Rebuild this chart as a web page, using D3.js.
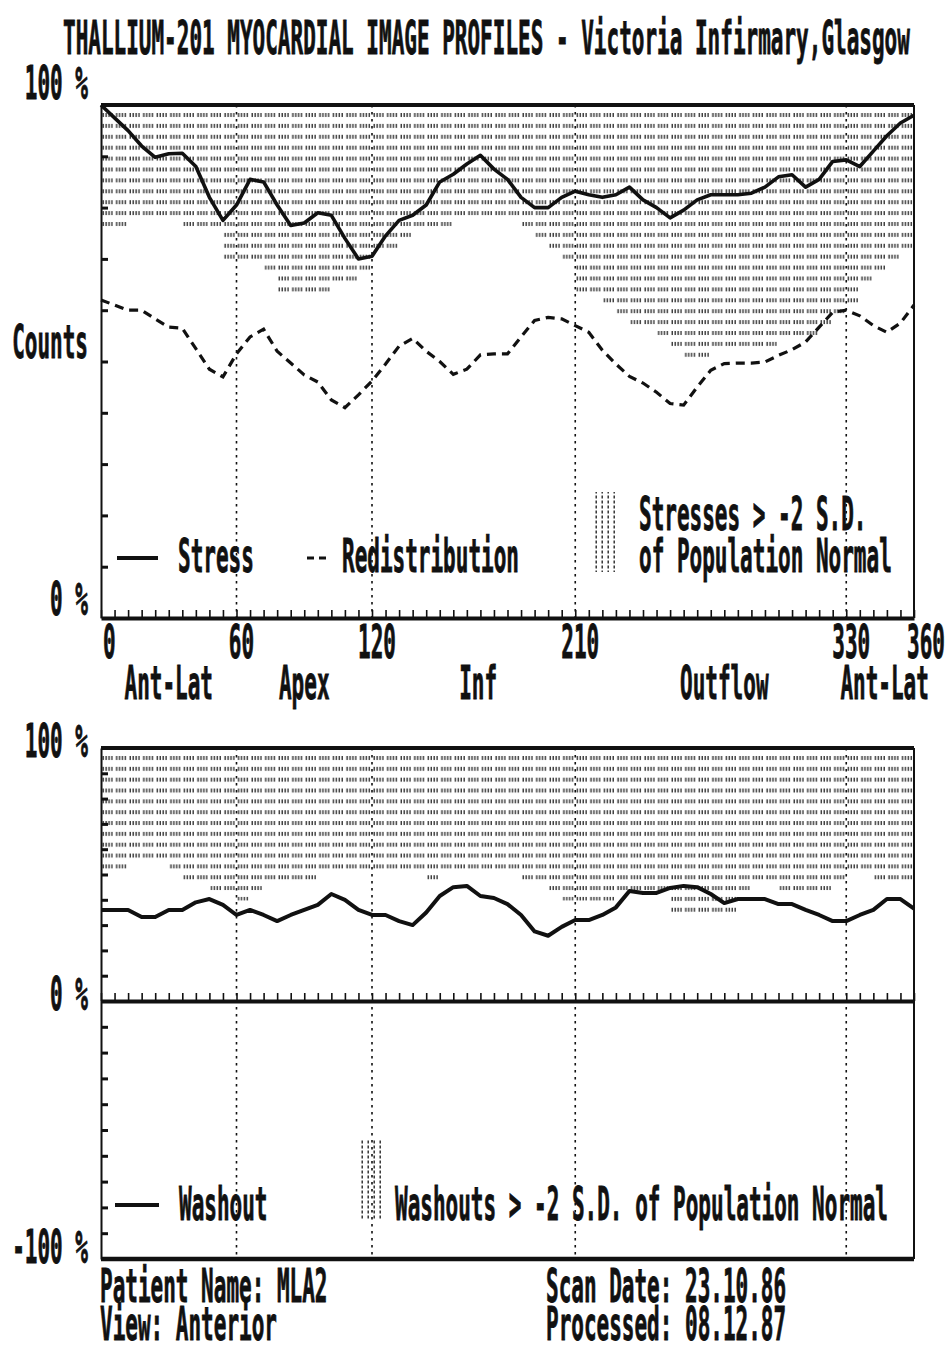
<!DOCTYPE html>
<html>
<head>
<meta charset="utf-8">
<script src="https://cdn.jsdelivr.net/npm/d3@7"></script>
<style>
  html, body { margin: 0; padding: 0; background: #ffffff; }
  svg { display: block; }
  text {
    font-family: 'DejaVu Sans Mono', 'Liberation Mono', monospace;
    font-weight: bold;
    fill: #111;
    stroke: #111;
    stroke-width: 0.7px;
    vector-effect: non-scaling-stroke;
  }
</style>
</head>
<body>
<svg id="chart" width="946" height="1351"></svg>
<script>
// ---- Profile data: one sample every 6 degrees around the myocardium ----
const angles = [0, 6, 12, 18, 24, 30, 36, 42, 48, 54, 60, 66, 72, 78, 84, 90, 96, 102, 108, 114,
  120, 126, 132, 138, 144, 150, 156, 162, 168, 174, 180, 186, 192, 198, 204, 210, 216, 222, 228,
  234, 240, 246, 252, 258, 264, 270, 276, 282, 288, 294, 300, 306, 312, 318, 324, 330, 336, 342,
  348, 354, 360];

// Stress counts (% of maximum)
const stress = [100, 97.5, 95, 92, 89.8, 90.5, 90.6, 88, 82, 77.5, 80.5, 85.5, 85, 80.5, 76.5,
  77, 79, 78.5, 74, 70, 70.5, 74.5, 77.5, 78.5, 80.5, 85, 86.5, 88.5, 90.2, 87.5, 85.5, 82, 80,
  80, 82, 83.2, 82.5, 82, 82.5, 84, 81.5, 80, 78, 79.5, 81.5, 82.5, 82.5, 82.5, 82.8, 84, 86,
  86.4, 84, 85.5, 89, 89.3, 88, 91, 94, 96.5, 98];

// Redistribution counts (% of maximum)
const redistribution = [62, 61, 60, 60, 58.3, 56.7, 56.5, 52.5, 48.5, 47, 51.5, 54.8, 56.3, 52,
  49.7, 47.4, 46, 42.5, 41, 43.5, 46.2, 49.5, 53, 54.5, 52, 50, 47.5, 48.5, 51.3, 51.5, 51.5,
  54.8, 58, 58.6, 58.3, 57, 55.7, 52.2, 49.5, 47.1, 45.8, 44, 41.8, 41.5, 45, 48.3, 49.6, 49.7,
  49.7, 49.9, 51.2, 52.3, 53.8, 56.7, 59.6, 60, 58.9, 57, 55.7, 57.5, 61];

// Lower limit of the normal stress range (population mean - 2 S.D.)
const stressNormalLow = [75.6, 75.6, 77.5, 77.5, 77.5, 77.5, 75.6, 75.6, 75.6, 69.4, 69.4, 69.4,
  67.4, 63.1, 63.1, 63.1, 63.1, 65.3, 65.3, 67.4, 71.3, 71.3, 73.5, 75.6, 75.6, 75.6, 77.5, 77.5,
  77.5, 77.5, 77.5, 75.6, 73.5, 71.3, 69.4, 63.1, 63.1, 61, 58.6, 56.7, 56.7, 54.7, 52.6, 50.7,
  50.7, 52.6, 52.6, 52.6, 52.6, 52.6, 54.7, 54.7, 54.7, 56.7, 58.6, 61, 65.3, 67.4, 69.4, 71.3,
  73.5];

// Washout (%)
const washout = [36, 36, 36, 33.2, 33.2, 36, 36, 39, 40.3, 38, 34, 36, 34, 31.6, 34, 36, 38,
  42.3, 40, 36, 34, 34, 31.6, 30, 35, 41.5, 45, 45.5, 41.5, 40.7, 38.3, 34, 27.5, 25.8, 29.3, 32,
  32, 34, 37, 43.5, 42.7, 42.7, 44.7, 45.5, 45, 42.3, 38.7, 40.3, 40.3, 40.3, 38.3, 38.3, 36, 34,
  31.6, 31.6, 34, 36, 40.3, 40.3, 36.5];

// Lower limit of the normal washout range (population mean - 2 S.D.)
const washoutNormalLow = [52, 52, 56, 56, 56, 52, 47.6, 47.6, 43.7, 43.7, 39.7, 43.7, 47.6, 47.6,
  47.6, 47.6, 52, 52, 52, 52, 52, 52, 52, 52, 47.6, 52, 52, 52, 52, 52, 52, 47.6, 47.6, 43.7,
  39.7, 39.7, 39.7, 39.7, 43.7, 43.7, 43.7, 43.7, 35, 35, 35, 35, 35, 43.7, 47.6, 47.6, 43.7,
  43.7, 43.7, 43.7, 47.6, 52, 52, 47.6, 47.6, 47.6, 47.6];

// Axis annotations
const angleTicks = [0, 60, 120, 210, 330, 360];
const regionNames = ["Ant-Lat", "Apex", "Inf", "Outflow", "Ant-Lat"];
const regionAngles = [30, 90, 167, 276, 347];
const countTicks = [10, 20, 30, 40, 50, 60, 70, 80, 90];
const washoutTicks = [-90, -80, -70, -60, -50, -40, -30, -20, -10, 10, 20, 30, 40, 50, 60, 70, 80, 90];

// ---- Layout ----
const svg = d3.select("#chart");
const FS = 21;              // monospace cell of ~12.65px
const SY = 2.2;             // tall, narrow terminal lettering
const INK = "#111";

const x = d3.scaleLinear().domain([0, 360]).range([101, 914]);
const yTop = d3.scaleLinear().domain([0, 100]).range([618, 105]);
const yBot = d3.scaleLinear().domain([-100, 0, 100]).range([1259, 1001, 748]);

function label(s, x0, base, anchor) {
  return svg.append("text")
    .attr("transform", `translate(${x0},${base}) scale(1,${SY})`)
    .attr("font-size", FS)
    .attr("text-anchor", anchor || "start")
    .text(s);
}

// ---- Stipple patterns ----
const defs = svg.append("defs");
function stipple(id, y0, h) {
  const p = defs.append("pattern").attr("id", id)
    .attr("patternUnits", "userSpaceOnUse")
    .attr("x", 101).attr("y", y0).attr("width", 13.55).attr("height", h);
  [1.5, 4.4, 7.3, 10.2].forEach(dx =>
    p.append("rect").attr("x", dx).attr("y", 0).attr("width", 1.3).attr("height", 4)
      .attr("fill", "#262626"));
}
stipple("dotsTop", 113, 10.9);
stipple("dotsBot", 756, 10.84);
const lp = defs.append("pattern").attr("id", "dotsLegend")
  .attr("patternUnits", "userSpaceOnUse").attr("width", 6).attr("height", 5);
lp.append("rect").attr("x", 1.5).attr("y", 0.5).attr("width", 1.4).attr("height", 3)
  .attr("fill", "#262626");

// ---- Normal-range shading ----
const pts = angles.map((a, i) => i);
svg.append("path")
  .attr("d", d3.area().curve(d3.curveStepAfter)
    .x(i => x(angles[i])).y0(i => yTop(stressNormalLow[i])).y1(yTop(100))(pts))
  .attr("fill", "url(#dotsTop)");
svg.append("path")
  .attr("d", d3.area().curve(d3.curveStepAfter)
    .x(i => x(angles[i])).y0(i => yBot(washoutNormalLow[i])).y1(yBot(100))(pts))
  .attr("fill", "url(#dotsBot)");

// ---- Dotted segment dividers ----
const dividers = [60, 120, 210, 330];
[[yTop(100), yTop(0)], [yBot(100), yBot(-100)]].forEach(([a, b]) => {
  svg.append("g").selectAll("line").data(dividers).join("line")
    .attr("x1", d => x(d)).attr("x2", d => x(d))
    .attr("y1", a).attr("y2", b)
    .attr("stroke", INK).attr("stroke-width", 1.6).attr("stroke-dasharray", "2.5,4.5");
});

// ---- Curves ----
const lineTop = src => d3.line().x(i => x(angles[i])).y(i => yTop(src[i]));
svg.append("path").attr("d", lineTop(stress)(pts))
  .attr("fill", "none").attr("stroke", INK).attr("stroke-width", 3.6)
  .attr("stroke-linejoin", "round");
svg.append("path").attr("d", lineTop(redistribution)(pts))
  .attr("fill", "none").attr("stroke", INK).attr("stroke-width", 3.2)
  .attr("stroke-dasharray", "9,6");
svg.append("path")
  .attr("d", d3.line().x(i => x(angles[i])).y(i => yBot(washout[i]))(pts))
  .attr("fill", "none").attr("stroke", INK).attr("stroke-width", 4)
  .attr("stroke-linejoin", "round");

// ---- Frames and axes ----
function frameLine(x1, y1, x2, y2, w) {
  svg.append("line").attr("x1", x1).attr("y1", y1).attr("x2", x2).attr("y2", y2)
    .attr("stroke", INK).attr("stroke-width", w);
}
// top panel
frameLine(x(0), yTop(100), x(360), yTop(100), 4);
frameLine(x(360), yTop(100), x(360), yTop(0), 2);
// bottom panel
frameLine(x(0), yBot(100), x(360), yBot(100), 4);
frameLine(x(360), yBot(100), x(360), yBot(-100), 2);
frameLine(x(0), yBot(-100), x(360), yBot(-100), 4.5);

function styleAxis(g, domainW, tickW) {
  g.select(".domain").attr("stroke", INK).attr("stroke-width", domainW);
  g.selectAll(".tick line").attr("stroke", INK).attr("stroke-width", tickW);
  g.selectAll(".tick text").remove();
}
// angle axes with short upward ticks every 6 degrees
[yTop(0), yBot(0)].forEach(yy => {
  const g = svg.append("g").attr("transform", `translate(0,${yy})`)
    .call(d3.axisBottom(x).tickValues(angles).tickSize(-8).tickSizeOuter(0).tickFormat(""));
  styleAxis(g, 4, 1.6);
});
// vertical axes with inward ticks every 10 %
const gyT = svg.append("g").attr("transform", `translate(${x(0)},0)`)
  .call(d3.axisRight(yTop).tickValues(countTicks).tickSize(7).tickSizeOuter(0).tickFormat(""));
styleAxis(gyT, 2, 3);
const gyB = svg.append("g").attr("transform", `translate(${x(0)},0)`)
  .call(d3.axisRight(yBot).tickValues(washoutTicks).tickSize(7).tickSizeOuter(0).tickFormat(""));
styleAxis(gyB, 2, 3);

// angle tick labels
angleTicks.forEach(v => {
  const s = String(v);
  if (v === 0) label(s, x(v) + 2, 658);
  else if (v === 360) label(s, 945, 658, "end");
  else label(s, x(v) + 5, 658, "middle");
});
// region labels
regionNames.forEach((s, i) => label(s, x(regionAngles[i]), 699, "middle"));

// ---- Titles and side labels ----
label("THALLIUM-201 MYOCARDIAL IMAGE PROFILES - Victoria Infirmary,Glasgow", 63, 54);
label("100 %", 88, 99, "end");
label("Counts", 88, 358, "end");
label("0 %", 88, 615, "end");
label("100 %", 88, 757, "end");
label("0 %", 88, 1010, "end");
label("-100 %", 88, 1263, "end");

// ---- Legends ----
frameLine(117, 558, 158, 558, 4);
label("Stress", 178, 572);
frameLine(307, 558, 314, 558, 3);
frameLine(319, 558, 326, 558, 3);
label("Redistribution", 342, 572);
svg.append("rect").attr("x", 593).attr("y", 492).attr("width", 24).attr("height", 80)
  .attr("fill", "url(#dotsLegend)");
label("Stresses > -2 S.D.", 639, 530);
label("of Population Normal", 639, 572);

frameLine(115, 1205, 159, 1205, 4);
label("Washout", 179, 1220);
svg.append("rect").attr("x", 359).attr("y", 1140).attr("width", 24).attr("height", 80)
  .attr("fill", "url(#dotsLegend)");
label("Washouts > -2 S.D. of Population Normal", 395, 1220);

// ---- Study details ----
label("Patient Name: MLA2", 100, 1302);
label("View: Anterior", 100, 1340);
label("Scan Date: 23.10.86", 546, 1302);
label("Processed: 08.12.87", 546, 1340);
</script>
</body>
</html>
